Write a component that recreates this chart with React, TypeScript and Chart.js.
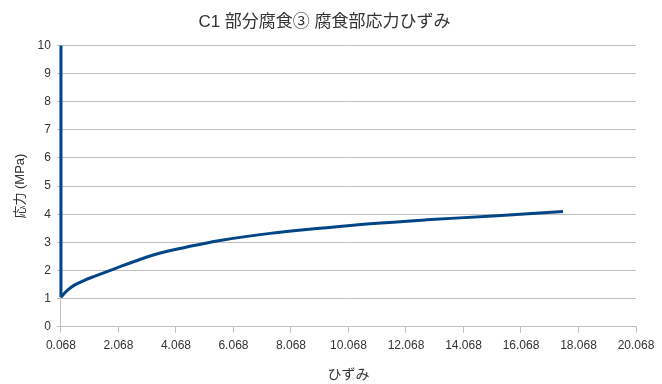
import React, { useEffect, useRef } from "react";
import { Chart, registerables } from "chart.js";

Chart.register(...registerables);

const strainVertical = [0.068, 0.068];
const stressVertical = [10, 1.05];

const strainCurve = [0.068, 0.3, 0.55, 0.9, 1.25, 1.95, 2.64, 3.34, 4.38, 5.6, 7.34, 9.08, 10.82, 12.79, 15.1, 17.53];
const stressCurve = [1.05, 1.3, 1.49, 1.66, 1.8, 2.07, 2.33, 2.57, 2.82, 3.07, 3.32, 3.5, 3.66, 3.8, 3.94, 4.1];

const titleText = "C1 部分腐食③ 腐食部応力ひずみ";
const xTitle = "ひずみ";
const yTitle = "応力 (MPa)";

const FONT = "'Liberation Sans', 'Noto Sans CJK JP', sans-serif";

export default function App() {
  const ref = useRef<HTMLCanvasElement | null>(null);
  useEffect(() => {
    document.body.style.margin = "0";
    if (!ref.current) return;
    const color = "#004586";
    const chart = new Chart(ref.current, {
      type: "scatter",
      data: {
        datasets: [
          {
            data: strainVertical.map((x, i) => ({ x, y: stressVertical[i] })),
            showLine: true,
            borderColor: color,
            borderWidth: 3,
            pointRadius: 0,
            clip: false,
          },
          {
            data: strainCurve.map((x, i) => ({ x, y: stressCurve[i] })),
            showLine: true,
            borderColor: color,
            borderWidth: 3,
            pointRadius: 0,
            tension: 0.4,
            clip: false,
          },
        ],
      },
      options: {
        animation: false,
        responsive: false,
        layout: { padding: { left: 13, right: 26, top: 9, bottom: 0 } },
        plugins: {
          legend: { display: false },
          tooltip: { enabled: false },
          title: {
            display: true,
            text: titleText,
            color: "#333333",
            font: { family: FONT, size: 17, weight: "normal" },
            padding: { top: 3, bottom: 13 },
          },
        },
        scales: {
          x: {
            type: "linear",
            min: 0.068,
            max: 20.068,
            ticks: {
              stepSize: 2,
              color: "#333333",
              font: { family: FONT, size: 12 },
              maxRotation: 0,
              autoSkip: false,
              padding: 6,
              callback: (v: any) => Number(v).toFixed(3),
            },
            grid: { drawOnChartArea: false, color: "#c0c0c0", tickLength: 6 },
            border: { color: "#c0c0c0" },
            title: {
              display: true,
              text: xTitle,
              color: "#333333",
              font: { family: FONT, size: 14 },
              padding: { top: 8, bottom: 0 },
            },
          },
          y: {
            type: "linear",
            min: 0,
            max: 10,
            ticks: {
              stepSize: 1,
              color: "#333333",
              font: { family: FONT, size: 12 },
              padding: 6,
            },
            grid: { color: "#c0c0c0", tickLength: 4 },
            border: { color: "#c0c0c0" },
            title: {
              display: true,
              text: yTitle,
              color: "#333333",
              font: { family: FONT, size: 13 },
              padding: { top: 0, bottom: 3 },
            },
          },
        },
      },
    });
    return () => chart.destroy();
  }, []);
  return (
    <div style={{ width: 662, height: 384 }}>
      <canvas ref={ref} width={662} height={384} />
    </div>
  );
}
